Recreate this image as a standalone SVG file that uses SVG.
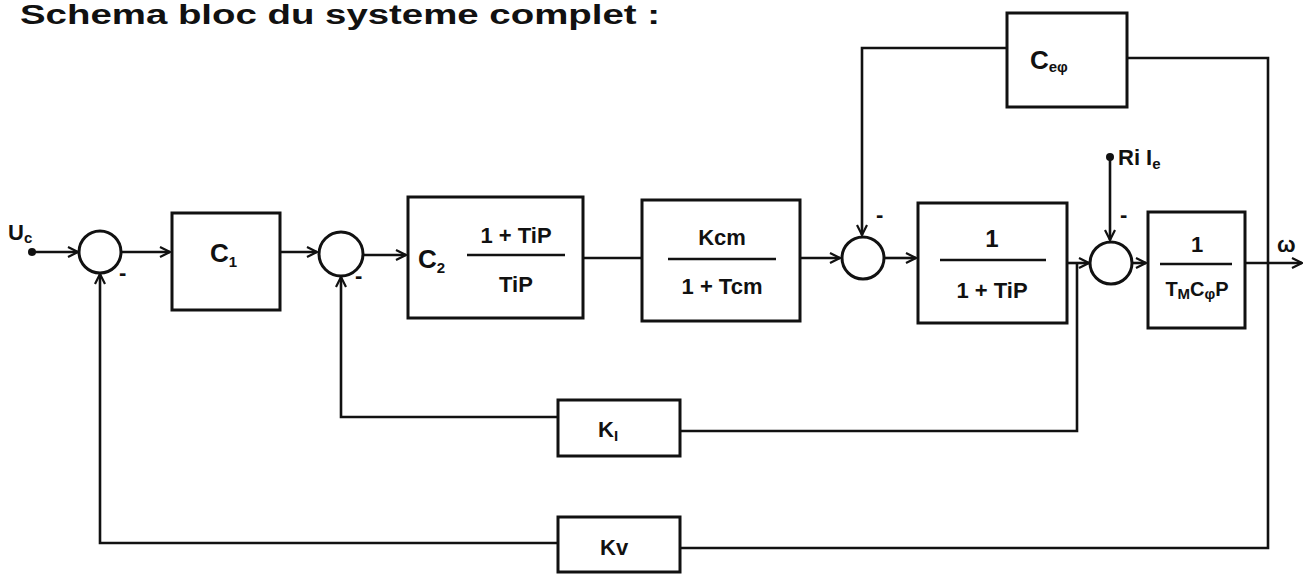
<svg xmlns="http://www.w3.org/2000/svg" width="1308" height="578" viewBox="0 0 1308 578">
<defs>
<marker id="arr" viewBox="0 0 12 12" refX="11" refY="6" markerWidth="12" markerHeight="12" markerUnits="userSpaceOnUse" orient="auto">
<path d="M1,1 L11,6 L1,11" fill="none" stroke="#111" stroke-width="2.2"/>
</marker>
</defs>
<style>
.b{fill:none;stroke:#111;stroke-width:3}
.s{fill:#fff;stroke:#111;stroke-width:3}
.w{fill:none;stroke:#111;stroke-width:2.6}
.t{font-family:"Liberation Sans",Arial,sans-serif;fill:#111;font-weight:bold}
.sub{font-size:15px}
.dot{fill:#111}
</style>
<rect width="1308" height="578" fill="#fff"/>
<text class="t" x="20" y="24" font-size="27" textLength="640" lengthAdjust="spacingAndGlyphs">Schema bloc du systeme complet :</text>

<g id="connectors">
<circle class="dot" cx="32" cy="252" r="4"/>
<path class="w" d="M32,252 H78" marker-end="url(#arr)"/>
<path class="w" d="M121,252 H170" marker-end="url(#arr)"/>
<path class="w" d="M280,252 H317" marker-end="url(#arr)"/>
<path class="w" d="M363,255 H406" marker-end="url(#arr)"/>
<path class="w" d="M583,258 H642"/>
<path class="w" d="M800,258 H840" marker-end="url(#arr)"/>
<path class="w" d="M884,258 H916" marker-end="url(#arr)"/>
<path class="w" d="M1067,263 H1089" marker-end="url(#arr)"/>
<path class="w" d="M1132,263 H1146" marker-end="url(#arr)"/>
<path class="w" d="M1245,263 H1302" marker-end="url(#arr)"/>
<path class="w" d="M1007,48 H862 V235" marker-end="url(#arr)"/>
<path class="w" d="M1127,58 H1268 V548 H680"/>
<circle class="dot" cx="1110" cy="157" r="4"/>
<path class="w" d="M1110,157 V240" marker-end="url(#arr)"/>
<path class="w" d="M1077,263 V431 H680"/>
<path class="w" d="M558,417 H341 V277" marker-end="url(#arr)"/>
<path class="w" d="M558,543 H100 V274" marker-end="url(#arr)"/>
</g>

<g id="sum1"><circle class="s" cx="100" cy="252" r="21"/><text class="t" x="119" y="280" font-size="22">-</text></g>
<g id="sum2"><circle class="s" cx="341" cy="254" r="22"/><text class="t" x="355" y="283" font-size="22">-</text></g>
<g id="sum3"><circle class="s" cx="863" cy="258" r="21"/><text class="t" x="876" y="222" font-size="22">-</text></g>
<g id="sum4"><circle class="s" cx="1111" cy="263" r="21"/><text class="t" x="1120" y="222" font-size="22">-</text></g>

<g id="uc"><text class="t" x="8" y="240" font-size="22">U<tspan class="sub" dy="3">c</tspan></text></g>
<g id="rile"><text class="t" x="1118" y="165" font-size="22">Ri I<tspan class="sub" dy="4">e</tspan></text></g>
<g id="omega"><text class="t" x="1277" y="252" font-size="22">ω</text></g>

<g id="c1"><rect class="b" x="172" y="213" width="108" height="97"/><text class="t" x="210" y="262" font-size="26">C<tspan class="sub" dy="5">1</tspan></text></g>

<g id="c2"><rect class="b" x="408" y="197" width="175" height="121"/>
<text class="t" x="418" y="268" font-size="26">C<tspan class="sub" dy="5">2</tspan></text>
<text class="t" x="516" y="243" font-size="22" text-anchor="middle">1 + TiP</text>
<line class="w" x1="467" y1="255" x2="565" y2="255"/>
<text class="t" x="516" y="292" font-size="22" text-anchor="middle">TiP</text></g>

<g id="kcm"><rect class="b" x="642" y="200" width="158" height="121"/>
<text class="t" x="722" y="245" font-size="22" text-anchor="middle">Kcm</text>
<line class="w" x1="668" y1="259" x2="776" y2="259"/>
<text class="t" x="722" y="294" font-size="22" text-anchor="middle">1 + Tcm</text></g>

<g id="ti"><rect class="b" x="918" y="203" width="149" height="120"/>
<text class="t" x="992" y="247" font-size="24" text-anchor="middle">1</text>
<line class="w" x1="940" y1="260" x2="1046" y2="260"/>
<text class="t" x="992" y="298" font-size="22" text-anchor="middle">1 + TiP</text></g>

<g id="tm"><rect class="b" x="1148" y="212" width="97" height="116"/>
<text class="t" x="1197" y="252" font-size="22" text-anchor="middle">1</text>
<line class="w" x1="1160" y1="264" x2="1232" y2="264"/>
<text class="t" x="1197" y="296" font-size="20" text-anchor="middle">T<tspan class="sub" font-size="13" dy="3">M</tspan><tspan dy="-3">C</tspan><tspan class="sub" font-size="13" dy="3">φ</tspan><tspan dy="-3">P</tspan></text></g>

<g id="caphi"><rect class="b" x="1007" y="13" width="120" height="94"/>
<text class="t" x="1030" y="69" font-size="26">C<tspan class="sub" dy="3">eφ</tspan></text></g>

<g id="ki"><rect class="b" x="558" y="400" width="122" height="56"/>
<text class="t" x="598" y="437" font-size="22">K<tspan class="sub" dy="4">I</tspan></text></g>

<g id="kv"><rect class="b" x="558" y="517" width="122" height="55"/>
<text class="t" x="600" y="555" font-size="22">Kv</text></g>
</svg>
